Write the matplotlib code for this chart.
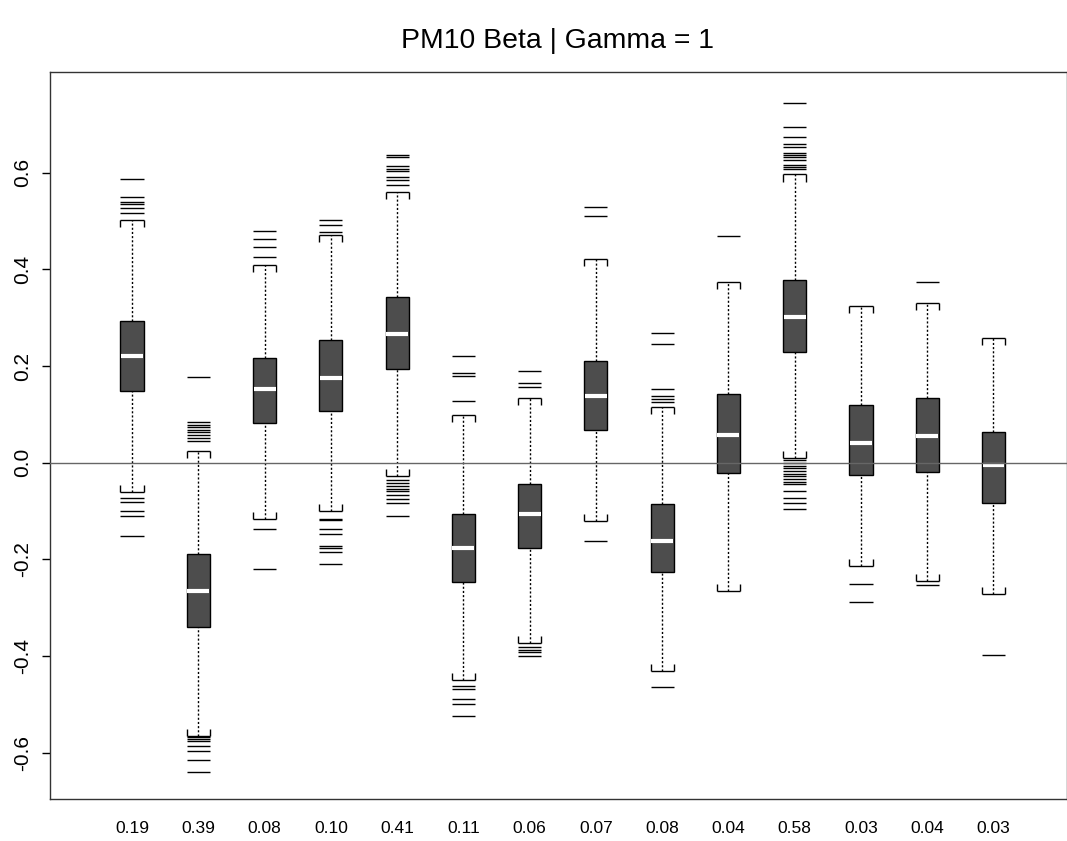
import numpy as np
import matplotlib
matplotlib.use("Agg")
import matplotlib.pyplot as plt

plt.rcParams['font.family'] = ['Liberation Sans', 'DejaVu Sans']

# bottom labels (one per box)
labels = ["0.19", "0.39", "0.08", "0.10", "0.41", "0.11", "0.06",
          "0.07", "0.08", "0.04", "0.58", "0.03", "0.04", "0.03"]

# box statistics
q1 = [0.148, -0.340, 0.083, 0.107, 0.194, -0.246, -0.177,
      0.067, -0.225, -0.021, 0.229, -0.025, -0.019, -0.083]
med = [0.220, -0.265, 0.153, 0.175, 0.267, -0.176, -0.107,
       0.138, -0.161, 0.057, 0.301, 0.041, 0.056, -0.005]
q3 = [0.294, -0.189, 0.216, 0.254, 0.342, -0.106, -0.044,
      0.211, -0.086, 0.143, 0.377, 0.120, 0.133, 0.063]
whisk_lo = [-0.061, -0.564, -0.116, -0.100, -0.027, -0.449, -0.373,
            -0.121, -0.430, -0.265, 0.010, -0.214, -0.245, -0.271]
whisk_hi = [0.501, 0.025, 0.408, 0.471, 0.560, 0.098, 0.134,
            0.421, 0.116, 0.373, 0.596, 0.324, 0.331, 0.258]

# outlying values
outliers = [
    [0.586, 0.549, 0.540, 0.535, 0.526, 0.517,
     -0.072, -0.081, -0.099, -0.110, -0.152],
    [0.178, 0.084, 0.079, 0.074, 0.068, 0.063, 0.058, 0.051, 0.046,
     -0.568, -0.572, -0.576, -0.586, -0.595, -0.614, -0.639],
    [0.479, 0.462, 0.447, 0.426, -0.138, -0.219],
    [0.502, 0.491, 0.477,
     -0.116, -0.119, -0.138, -0.147, -0.172, -0.176, -0.184, -0.209],
    [0.637, 0.632, 0.613, 0.608, 0.603, 0.590, 0.585, 0.575,
     -0.035, -0.041, -0.049, -0.054, -0.059, -0.067, -0.075, -0.083, -0.111],
    [0.221, 0.185, 0.180, 0.128,
     -0.461, -0.467, -0.488, -0.499, -0.524],
    [0.189, 0.165, 0.157, -0.382, -0.387, -0.392, -0.399],
    [0.528, 0.510, -0.161],
    [0.268, 0.245, 0.153, 0.137, 0.132, 0.126, -0.464],
    [0.469],
    [0.743, 0.695, 0.673, 0.659, 0.652, 0.640, 0.637, 0.633, 0.625,
     0.616, 0.611, 0.607,
     0.006, -0.001, -0.006, -0.011, -0.018, -0.023, -0.028, -0.034,
     -0.039, -0.044, -0.059, -0.072, -0.083, -0.095],
    [-0.251, -0.288],
    [0.373, -0.253],
    [-0.397],
]

pos = np.arange(1, len(labels) + 1)
w = 0.35
leg = 0.0145

fig = plt.figure(figsize=(10.67, 8.41), dpi=100)
ax = fig.add_axes([0.0464, 0.0505, 0.9536, 0.8639])

# whiskers
ax.vlines(pos, q3, whisk_hi, colors='black', linewidth=1.0,
          linestyles=(0, (1.5, 1.5)), zorder=2)
ax.vlines(pos, whisk_lo, q1, colors='black', linewidth=1.0,
          linestyles=(0, (1.5, 1.5)), zorder=2)

# staples with short legs pointing at the box
ax.hlines(whisk_hi, pos - w / 2, pos + w / 2, colors='black', linewidth=1.0, zorder=2)
ax.hlines(whisk_lo, pos - w / 2, pos + w / 2, colors='black', linewidth=1.0, zorder=2)
for p, lo, hi in zip(pos, whisk_lo, whisk_hi):
    ax.vlines([p - w / 2, p + w / 2], hi - leg, hi, colors='black', linewidth=1.0, zorder=2)
    ax.vlines([p - w / 2, p + w / 2], lo, lo + leg, colors='black', linewidth=1.0, zorder=2)

# boxes and medians
ax.bar(pos, np.array(q3) - np.array(q1), bottom=q1, width=w,
       color='#4d4d4d', edgecolor='black', linewidth=1.0, zorder=3)
ax.hlines(med, pos - w / 2 + 0.01, pos + w / 2 - 0.01, colors='white',
          linewidth=3.0, zorder=4)

# outliers drawn as dashes
for p, vals in zip(pos, outliers):
    ax.hlines(vals, p - w / 2, p + w / 2, colors='black', linewidth=1.0, zorder=2)

ax.axhline(0, color='#666666', linewidth=1.0, zorder=5)

allv = np.concatenate([np.concatenate(outliers), whisk_lo, whisk_hi])
r = allv.max() - allv.min()
ax.set_ylim(allv.min() - 0.04 * r, allv.max() + 0.047 * r)
ax.set_xlim(-0.246, 15.11)

ax.set_xticks(pos, labels)
ax.tick_params(axis='x', length=0, pad=16, labelsize=12.5)
ax.set_yticks([-0.6, -0.4, -0.2, 0.0, 0.2, 0.4, 0.6])
ax.set_yticklabels(["-0.6", "-0.4", "-0.2", "0.0", "0.2", "0.4", "0.6"],
                   rotation=90, va='center')
ax.tick_params(axis='y', length=5.5, width=1.0, pad=7, labelsize=15)

for s in ax.spines.values():
    s.set_linewidth(1.0)
    s.set_color('#333333')

fig.text(0.5225, 0.951, "PM10 Beta | Gamma = 1", ha='center', va='center', fontsize=20.4)

fig.savefig("out.png", dpi=100)
